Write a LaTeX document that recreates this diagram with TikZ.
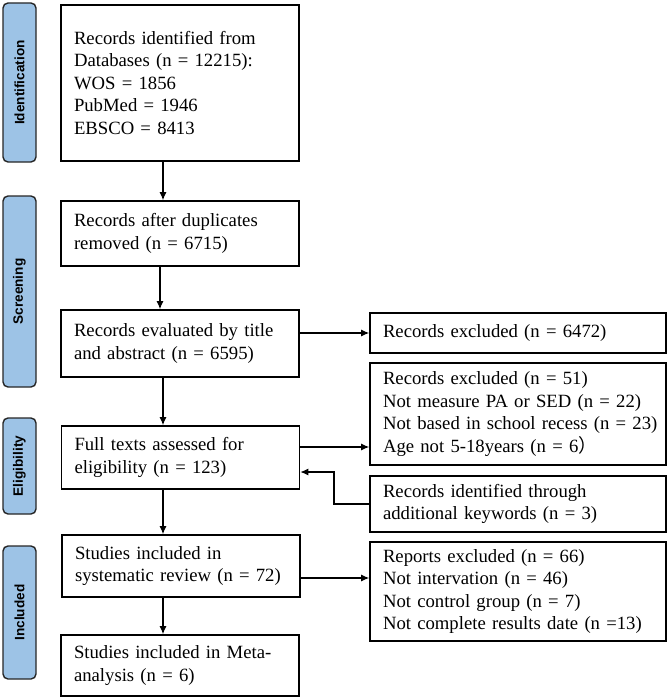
\documentclass[tikz,border=0pt]{standalone}
\usepackage{fontspec}
\setmainfont{Liberation Serif}
\newfontfamily\stagefont{Liberation Sans}
\newfontfamily\cjk{Noto Sans CJK SC}
\usetikzlibrary{arrows.meta}
\definecolor{stageblue}{HTML}{9DC3E6}
\begin{document}
\begin{tikzpicture}[x=1pt,y=-1pt,
  stage/.style={draw=black!85, line width=1.4pt, fill=stageblue, rounded corners=5pt,
    minimum height=33pt, inner sep=0pt, rotate=90,
    font=\stagefont\bfseries\fontsize{13.6}{16}\selectfont},
  lbox/.style={draw=black, line width=1.6pt, fill=white, align=left,
    inner xsep=13pt, inner ysep=0pt, text width=212pt,
    font=\fontsize{18.7}{22.5}\selectfont},
  rbox/.style={lbox, text width=270pt},
  arr/.style={line width=1.2pt, -{Latex[length=8pt,width=7pt]}}]
\useasboundingbox (0,0) rectangle (669,698);
% stage labels
\node[stage, minimum width=159pt] (s1) at (19.5,82.5) {Identification};
\node[stage, minimum width=191pt] (s2) at (19.5,291.5) {Screening};
\node[stage, minimum width=96pt] (s3) at (19.5,466) {Eligibility};
\node[stage, minimum width=133pt] (s4) at (19.5,612.5) {Included};
% left column
\node[lbox, minimum height=156pt] (b1) at (180,83) {Records identified from\\Databases (n = 12215):\\WOS = 1856\\PubMed = 1946\\EBSCO = 8413};
\node[lbox, minimum height=65pt] (b2) at (180,233.5) {Records after duplicates\\removed (n = 6715)};
\node[lbox, minimum height=67pt] (b3) at (180,343.5) {\mbox{Records evaluated by title}\\and abstract (n = 6595)};
\node[lbox, minimum height=63pt] (b4) at (180.5,457.5) {Full texts assessed for\\eligibility (n = 123)};
\node[lbox, minimum height=62pt] (b5) at (181,566) {Studies included in\\\mbox{systematic review (n = 72)}};
\node[lbox, minimum height=61pt] (b6) at (180,665.5) {\mbox{Studies included in Meta-}\\analysis (n = 6)};
% right column
\node[rbox, minimum height=40pt] (e1) at (518,333) {Records excluded (n = 6472)};
\node[rbox, minimum height=102pt] (e2) at (518,414) {Records excluded (n = 51)\\\mbox{Not measure PA or SED (n = 22)}\\\mbox{Not based in school recess (n = 23)}\\\mbox{Age not 5-18years (n = 6{\cjk ）}}};
\node[rbox, minimum height=56pt] (a1) at (518,504) {Records identified through\\\mbox{additional keywords (n = 3)}};
\node[rbox, minimum height=99pt] (e3) at (518,591.5) {Reports excluded (n = 66)\\Not intervation (n = 46)\\Not control group (n = 7)\\\mbox{Not complete results date (n =13)}};
% connectors
\coordinate (c1) at (163,0);
\coordinate (c2) at (160,0);
\draw[arr] (b1.south -| c1) -- (b2.north -| c1);
\draw[arr] (b2.south -| c2) -- (b3.north -| c2);
\draw[arr] (b3.south -| c1) -- (b4.north -| c1);
\draw[arr] (b4.south -| c1) -- (b5.north -| c1);
\draw[arr] (b5.south -| c1) -- (b6.north -| c1);
\draw[arr] (b3.east |- e1.west) -- (e1.west);
\coordinate (y2) at (0,447);
\draw[arr] (b4.east |- y2) -- (e2.west |- y2);
\coordinate (y3) at (0,578);
\draw[arr] (b5.east |- y3) -- (e3.west |- y3);
\coordinate (k1) at (334,504);
\coordinate (k2) at (334,472);
\draw[arr] (a1.west) -- (k1) -- (k2) -- (b4.east |- k2);
\end{tikzpicture}
\end{document}
